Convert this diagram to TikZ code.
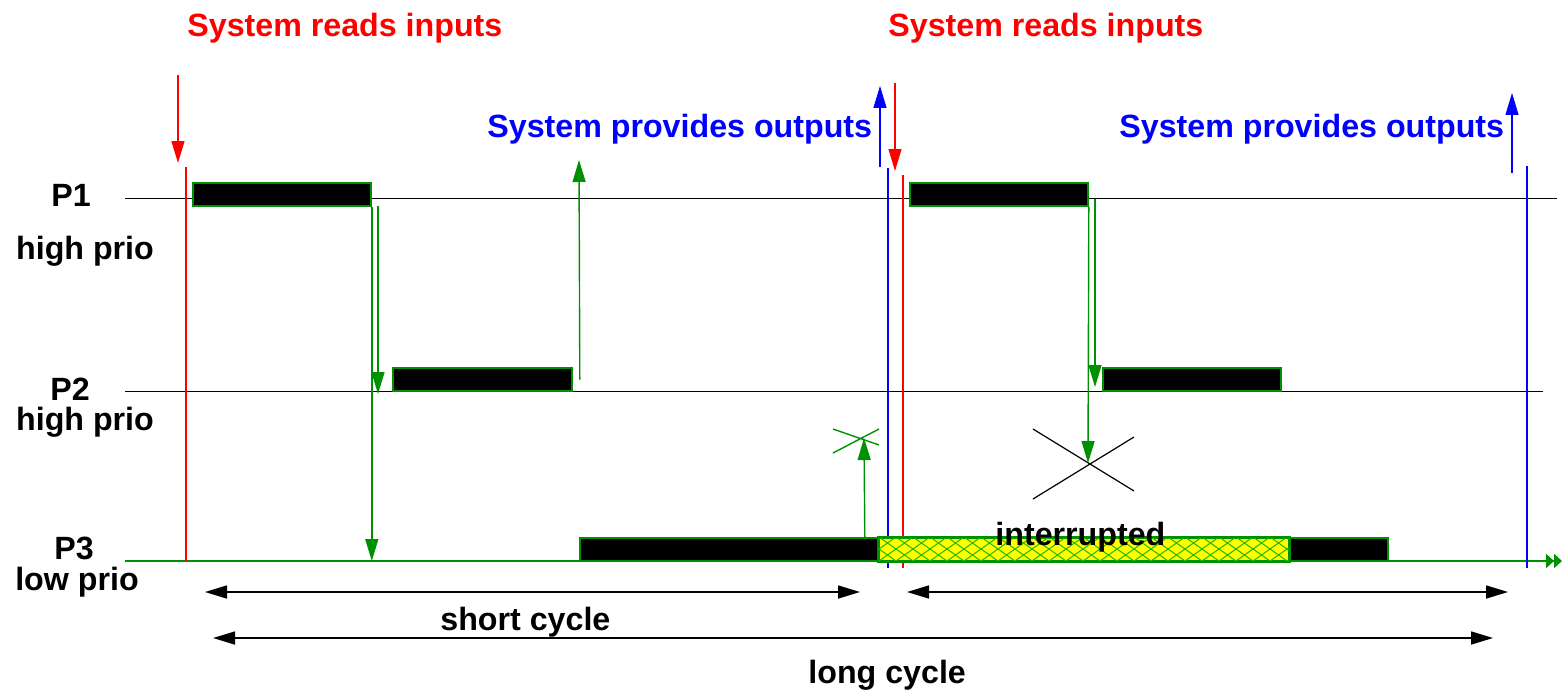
\documentclass[tikz,border=0pt]{standalone}
\usepackage{fontspec}
\setmainfont{Liberation Sans}
\usetikzlibrary{arrows.meta,fit}
\definecolor{readred}{RGB}{255,0,0}
\definecolor{writeblue}{RGB}{0,0,255}
\definecolor{taskgreen}{RGB}{0,145,0}
\definecolor{hatchgreen}{RGB}{30,185,0}
\definecolor{preemptyellow}{RGB}{255,255,0}

\begin{document}
\begin{tikzpicture}[
  x=0.5pt, y=-0.5pt,
  lbl/.style={font=\fontsize{16.1}{19}\selectfont\bfseries, inner sep=0pt},
  bar/.style={draw=taskgreen, fill=black, line width=0.8pt, inner sep=0pt},
  tline/.style={line width=0.5pt},
  tip/.style={-{Triangle[length=11pt, width=6.5pt]}},
  sig/.style={tip, taskgreen, line width=0.7pt},
  span/.style={{Triangle[length=11pt, width=6.5pt]}-{Triangle[length=11pt, width=6.5pt]}, line width=0.8pt},
]
  \useasboundingbox (0,0) rectangle (1562,690);

  % Task lines
  \coordinate (p1) at (0,198);
  \coordinate (p2) at (0,391);
  \coordinate (p3) at (0,561);
  \draw[tline] (125,198) -- (1557,198);
  \draw[tline] (125,391) -- (1543,391);
  \draw[taskgreen, line width=1pt, -{Triangle[length=4pt, width=7pt]Triangle[length=4pt, width=7pt]}] (125,561) -- (1562,561);

  \node[lbl, anchor=base] (p1lbl) at (71,206) {P1};
  \node[lbl, anchor=base] (p1prio) at (85,259) {high prio};
  \node[lbl, anchor=base] (p2lbl) at (70,400) {P2};
  \node[lbl, anchor=base] (p2prio) at (85,430) {high prio};
  \node[lbl, anchor=base] (p3lbl) at (74,559) {P3};
  \node[lbl, anchor=base] (p3prio) at (77,590) {low prio};

  % Input / output instants
  \draw[readred, line width=0.6pt] (186,167) -- (186,562);
  \draw[writeblue, line width=0.6pt] (888,168) -- (888,568);
  \draw[readred, line width=0.6pt] (903,175) -- (903,568);
  \draw[writeblue, line width=0.6pt] (1527,166) -- (1527,568);

  \coordinate (in1) at (178,75);
  \coordinate (out1) at (880,167);
  \coordinate (in2) at (895,83);
  \coordinate (out2) at (1512,173);
  \draw[tip, readred, line width=0.6pt] (in1) -- ++(0,88);
  \draw[tip, writeblue, line width=0.6pt] (out1) -- ++(0,-81);
  \draw[tip, readred, line width=0.6pt] (in2) -- ++(0,88);
  \draw[tip, writeblue, line width=0.6pt] (out2) -- ++(0,-80);

  \node[lbl, readred, anchor=base west] (reads1) at (187,37) {System reads inputs};
  \node[lbl, readred, anchor=base west] (reads2) at (888,37) {System reads inputs};
  \node[lbl, writeblue, anchor=base west] (prov1) at (487,138) {System provides outputs};
  \node[lbl, writeblue, anchor=base west] (prov2) at (1119,138) {System provides outputs};

  % Busy periods
  \node[bar, fit={(193,183) (371,206)}] (p1a) {};
  \node[bar, fit={(393,368) (572,391)}] (p2a) {};
  \node[bar, fit={(580,538) (879,561)}] (p3a) {};
  \node[bar, fit={(910,183) (1088,206)}] (p1b) {};
  \node[bar, fit={(1103,368) (1281,391)}] (p2b) {};
  \node[bar, fit={(1289,538) (1388,561)}] (p3b) {};

  % Preempted part of P3
  \node[bar, fill=preemptyellow, fit={(879,538) (1289,561)}] (p3h) {};
  \begin{scope}
    \clip (p3h.south west) rectangle (p3h.north east);
    \foreach \x in {845,862,...,1289}
      \draw[hatchgreen, line width=0.5pt] (\x,561) -- ++(34,-24) (\x,537) -- ++(34,24);
  \end{scope}
  \draw[taskgreen, line width=0.8pt] (p3h.south west) rectangle (p3h.north east);
  \node[lbl, anchor=base west] (intr) at (995,545) {interrupted};

  % Activations
  \draw[sig] (p1a.south east) -- (p1a.south east |- p3);
  \draw[sig] (378,206) -- (378,394);
  \draw[sig] (p2a.east) ++(7,0) -- (579,160);
  \draw[sig] (p3a.north east) ++(-15,0) coordinate (up3) -- (864,438) coordinate (lost);
  \draw[taskgreen, line width=0.7pt] (833,429) -- (879,445) (833,453) -- (879,429);

  \draw[sig] (p1b.south east) -- (1088,463) coordinate (blocked);
  \draw[sig] (1095,199) -- (1095,387);
  \draw[line width=0.6pt] (1033,429) -- (1134,491) (1033,499) -- (1134,437);

  % Cycle lengths
  \coordinate (s1a) at (205,592);
  \coordinate (s1b) at (860,592);
  \coordinate (s2a) at (907,592);
  \coordinate (s2b) at (1508,592);
  \coordinate (la) at (213,638);
  \coordinate (lb) at (1493,638);
  \draw[span] (s1a) -- (s1b);
  \draw[span] (s2a) -- (s2b);
  \draw[span] (la) -- (lb);
  \node[lbl, anchor=base west] (short) at (440,630) {short cycle};
  \node[lbl, anchor=base west] (long) at (808,683) {long cycle};
\end{tikzpicture}
\end{document}
